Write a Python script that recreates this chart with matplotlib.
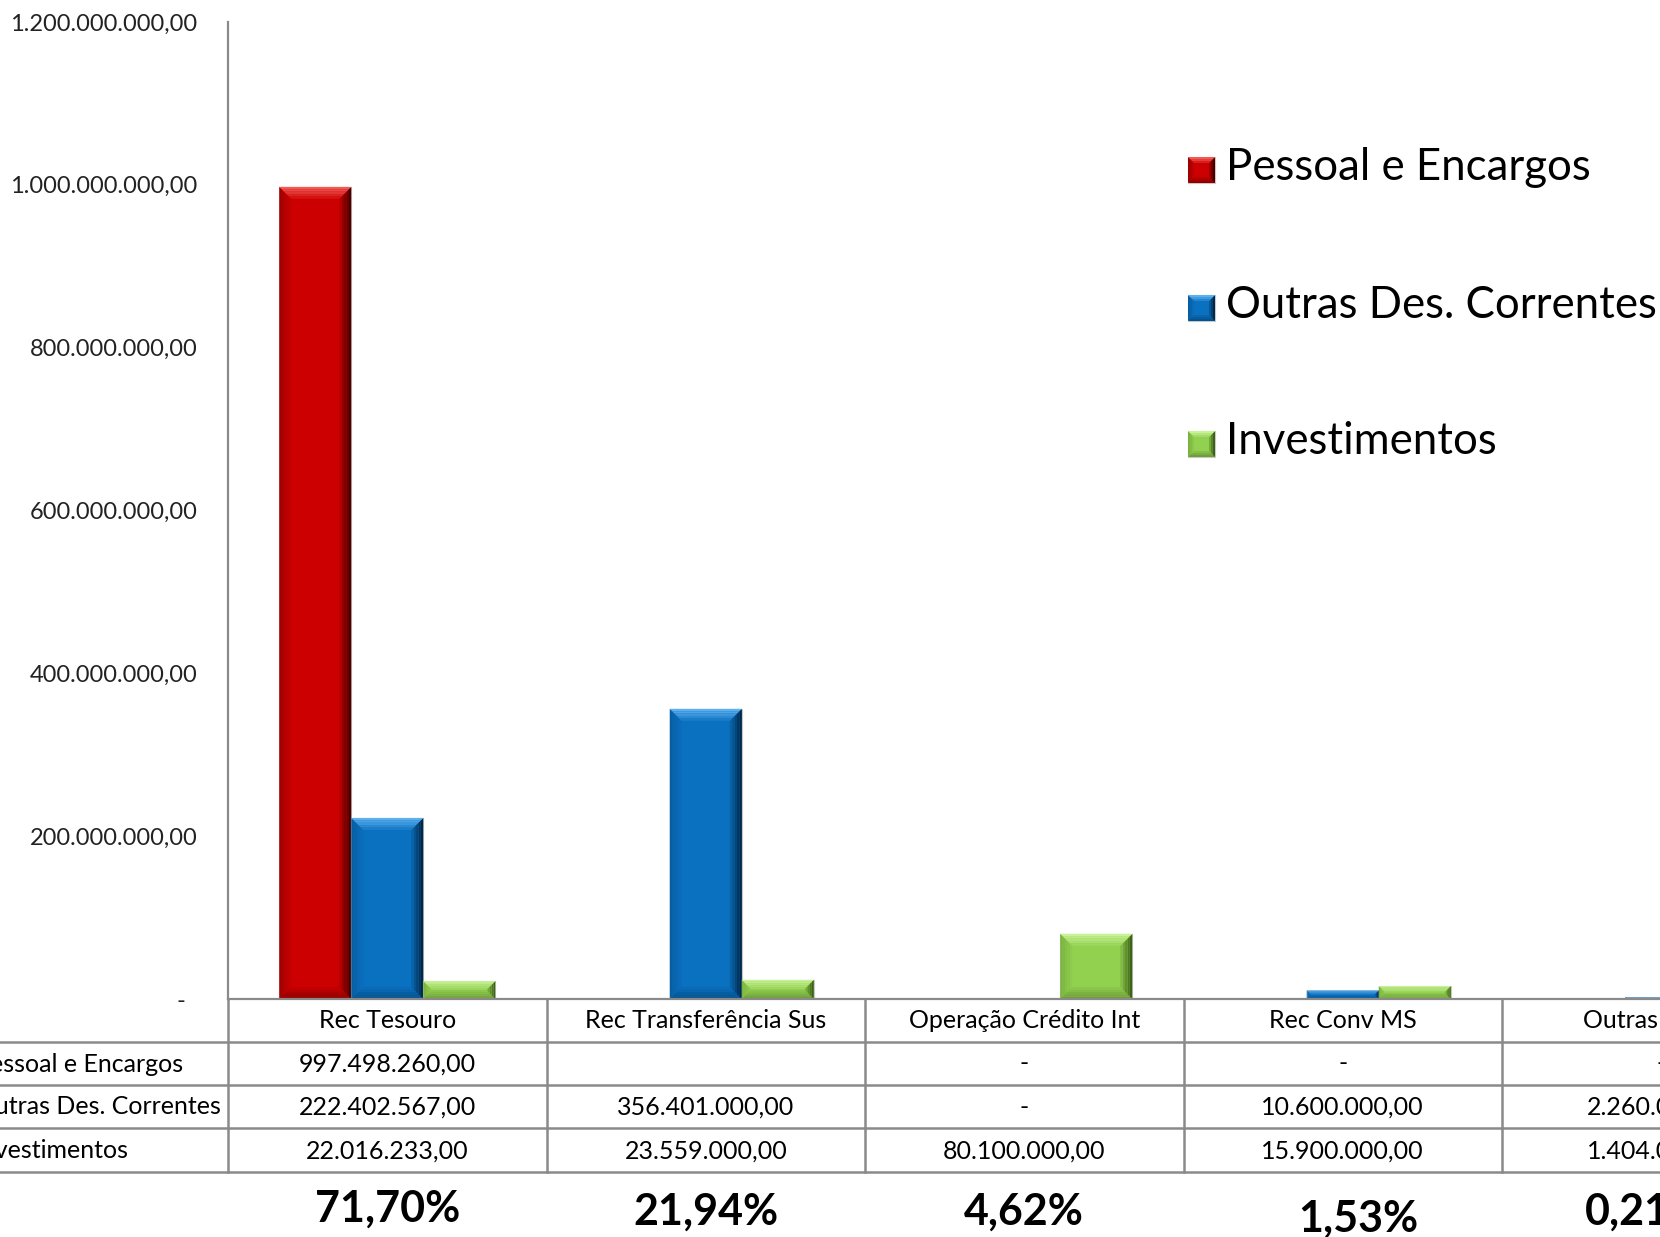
import numpy as np
import matplotlib
matplotlib.use("Agg")
import matplotlib.pyplot as plt
from matplotlib.colors import to_rgb
from matplotlib.patches import Polygon
from matplotlib.transforms import IdentityTransform

categories = ["Rec Tesouro", "Rec Transferência Sus", "Operação Crédito Int", "Rec Conv MS", "Outras Fontes"]
series_names = ["Pessoal e Encargos", "Outras Des. Correntes", "Investimentos"]
pessoal = [997498260.00, None, 0, 0, 0]
outras = [222402567.00, 356401000.00, 0, 10600000.00, 2260000.00]
invest = [22016233.00, 23559000.00, 80100000.00, 15900000.00, 1404000.00]
percent_labels = ["71,70%", "21,94%", "4,62%", "1,53%", "0,21%"]
yticks = [0, 200000000, 400000000, 600000000, 800000000, 1000000000, 1200000000]

# base, top edge, right edge, bottom edge, left edge
palette = [
    ("#CC0000", "#F05A55", "#4A0000", "#900000", "#A00000"),
    ("#0A70C0", "#5DB0EE", "#012848", "#04528E", "#085EA2"),
    ("#92D050", "#C8F296", "#3E6218", "#6E9E38", "#7CB340"),
]

plt.rcParams["font.family"] = ["Lato", "DejaVu Sans"]

W, H = 1660, 1237
AX_L, AX_TOP, AX_BOT = 228, 22, 999
COL_W = 318.5
fig = plt.figure(figsize=(W / 100, H / 100), dpi=100)
ax = fig.add_axes([AX_L / W, 1 - AX_BOT / H, 5 * COL_W / W, (AX_BOT - AX_TOP) / H])


def ya(ypix):
    # pixel row (from top) -> axes fraction
    return (AX_BOT - ypix) / (AX_BOT - AX_TOP)


def xd(xpix):
    # pixel column -> data x
    return -0.5 + (xpix - AX_L) / COL_W


def br(v):
    if v is None:
        return ""
    if v == 0:
        return "-"
    s = f"{v:,.2f}"
    return s.replace(",", "X").replace(".", ",").replace("X", ".")


def mix(c1, c2, t):
    a, b = np.array(to_rgb(c1)), np.array(to_rgb(c2))
    return tuple(a + (b - a) * t)


def bevel(target, x0, y0, x1, y1, cols, b=12, n=5):
    base, top, right, bottom, left = cols
    b = min(b, (x1 - x0) / 2, (y1 - y0) / 2)
    target.add_artist(Polygon([(x0, y0), (x1, y0), (x1, y1), (x0, y1)],
                              facecolor=base, edgecolor="#C8C8C8", linewidth=0.8,
                              transform=IdentityTransform()))
    for k in range(n):
        o0, o1 = b * k / n, b * (k + 1) / n
        t = k / n
        sides = [
            ([(x0 + o0, y0 + o0), (x0 + o0, y1 - o0), (x0 + o1, y1 - o1), (x0 + o1, y0 + o1)], left),
            ([(x0 + o0, y0 + o0), (x1 - o0, y0 + o0), (x1 - o1, y0 + o1), (x0 + o1, y0 + o1)], bottom),
            ([(x1 - o0, y1 - o0), (x1 - o0, y0 + o0), (x1 - o1, y0 + o1), (x1 - o1, y1 - o1)], right),
            ([(x0 + o0, y1 - o0), (x1 - o0, y1 - o0), (x1 - o1, y1 - o1), (x0 + o1, y1 - o1)], top),
        ]
        for pts, c in sides:
            target.add_artist(Polygon(pts, closed=True, facecolor=mix(c, base, t),
                                      edgecolor="none", transform=IdentityTransform()))


ax.set_xlim(-0.5, 4.5)
ax.set_ylim(0, 1200000000)
x = np.arange(len(categories))
bw = 72 / COL_W
data = [pessoal, outras, invest]
for i, vals in enumerate(data):
    heights = [0 if v is None else v for v in vals]
    bars = ax.bar(x + (i - 1) * bw, heights, width=bw, color=palette[i][0],
                  label=series_names[i])
    for r in bars:
        if r.get_height() <= 0:
            continue
        (px0, py0), (px1, py1) = ax.transData.transform(
            [(r.get_x(), 0), (r.get_x() + r.get_width(), r.get_height())])
        bevel(ax, px0, py0, px1, py1, palette[i])

ax.set_yticks(yticks)
ax.set_yticklabels([br(v) if v else "-  " for v in yticks], fontsize=17, color="#222222")
ax.tick_params(axis="y", length=0, pad=22)
ax.set_xticks([])
for s in ["top", "right"]:
    ax.spines[s].set_visible(False)
ax.spines["left"].set_color("#8A8A8A")
ax.spines["bottom"].set_color("#8A8A8A")
ax.spines["left"].set_linewidth(1.6)
ax.spines["bottom"].set_linewidth(1.6)

# data table under the plot
tr = ax.get_xaxis_transform()
grid = dict(color="#8A8A8A", linewidth=1.8, transform=tr, clip_on=False)
for yp in [1042, 1085, 1128, 1172]:
    ax.plot([xd(0), 4.5 + 1], [ya(yp), ya(yp)], **grid)
for k in range(6):
    ax.plot([k - 0.5, k - 0.5], [ya(AX_BOT), ya(1172)], **grid)

for j, c in enumerate(categories):
    ax.text(j, ya(1021), c, ha="center", va="center", fontsize=18,
            transform=tr, clip_on=False)
row_y = [1064, 1107, 1151]
for i, vals in enumerate(data):
    ax.text(xd(-25), ya(row_y[i]), series_names[i], ha="left", va="center",
            fontsize=18, transform=tr, clip_on=False)
    for j, v in enumerate(vals):
        ax.text(j, ya(row_y[i]), br(v), ha="center", va="center", fontsize=18,
                transform=tr, clip_on=False)

pct_dx = [0, 0, 0, 0.05, -0.05]
pct_y = [1209, 1212, 1212, 1219, 1212]
for j, lab in enumerate(percent_labels):
    ax.text(j + pct_dx[j], ya(pct_y[j]), lab, ha="center", va="center",
            fontsize=31, fontweight="bold", transform=tr, clip_on=False)

# legend
leg_y = [168, 306, 442]
for i, name in enumerate(series_names):
    yc = H - leg_y[i] - 2
    bevel(fig, 1188, yc - 13, 1215, yc + 13, palette[i], b=6, n=3)
    fig.text(1226 / W, 1 - leg_y[i] / H, name, ha="left", va="center", fontsize=31.5)

fig.savefig("out.png", dpi=100)
